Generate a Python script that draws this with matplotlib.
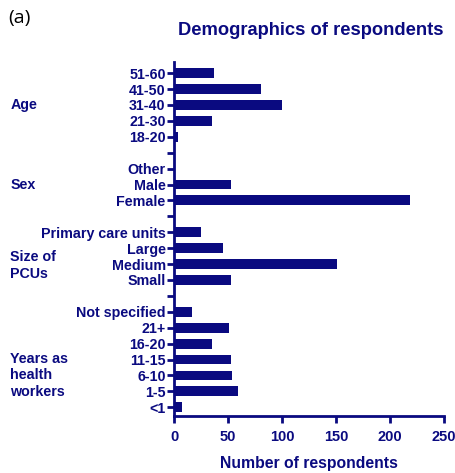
import matplotlib
matplotlib.use("Agg")
import matplotlib.pyplot as plt
import numpy as np

NAVY = "#0a0a80"

# categories top-to-bottom, a blank tick separates the groups
age_labels = ["51-60", "41-50", "31-40", "21-30", "18-20"]
age_values = [37, 81, 100, 35, 4]
sex_labels = ["Other", "Male", "Female"]
sex_values = [0, 53, 219]
pcu_labels = ["Primary care units", "Large", "Medium", "Small"]
pcu_values = [25, 45, 151, 53]
years_labels = ["Not specified", "21+", "16-20", "11-15", "6-10", "1-5", "<1"]
years_values = [17, 51, 35, 53, 54, 59, 7]

groups = [
    ("Age", age_labels, age_values),
    ("Sex", sex_labels, sex_values),
    ("Size of\nPCUs", pcu_labels, pcu_values),
    ("Years as\nhealth\nworkers", years_labels, years_values),
]
# which row each group name sits on (index within the group)
group_anchor = [2, 1, 2.1, 4]

plt.rcParams["font.family"] = ["Liberation Sans", "DejaVu Sans"]

fig = plt.figure(figsize=(4.56, 4.73), dpi=100)
ax = fig.add_axes([0.3816, 0.1205, 0.592, 0.7484])

ticks, ticklabels = [], []
pos = 0
group_pos = []
for gi, (gname, labels, values) in enumerate(groups):
    ys = []
    for lab, val in zip(labels, values):
        ax.barh(pos, val, height=0.62, color=NAVY)
        ticks.append(pos)
        ticklabels.append(lab)
        ys.append(pos)
        pos += 1
    group_pos.append((gname, ys))
    if gi < len(groups) - 1:
        ticks.append(pos)
        ticklabels.append("")
        pos += 1

ax.set_ylim(pos - 1 + 0.55, -0.7)
ax.set_xlim(0, 250)
ax.set_yticks(ticks)
ax.set_yticklabels(ticklabels, fontsize=10.3, fontweight="bold", color=NAVY)
ax.set_xticks([0, 50, 100, 150, 200, 250])
ax.tick_params(axis="both", colors=NAVY, width=2, length=5)
ax.tick_params(axis="x", labelsize=10.5, pad=5)
ax.tick_params(axis="y", pad=1)
for lab in ax.get_xticklabels():
    lab.set_fontweight("bold")
for s in ["top", "right"]:
    ax.spines[s].set_visible(False)
for s in ["left", "bottom"]:
    ax.spines[s].set_color(NAVY)
    ax.spines[s].set_linewidth(2)

ax.set_xlabel("Number of respondents", fontsize=11.3, fontweight="bold", color=NAVY, labelpad=9)

# group labels at left
for (gname, ys), anchor in zip(group_pos, group_anchor):
    yc = ys[0] + anchor
    ax.text(-0.606, yc, gname, transform=ax.get_yaxis_transform(), ha="left", va="center",
            fontsize=10.3, fontweight="bold", color=NAVY, linespacing=1.25)

fig.text(0.6825, 0.935, "Demographics of respondents", ha="center", va="center",
         fontsize=13.2, fontweight="bold", color=NAVY)
fig.text(0.017, 0.962, "(a)", ha="left", va="center", fontsize=14, color="black",
         family=["Open Sans", "DejaVu Sans"])

fig.savefig("out.png", dpi=100)
